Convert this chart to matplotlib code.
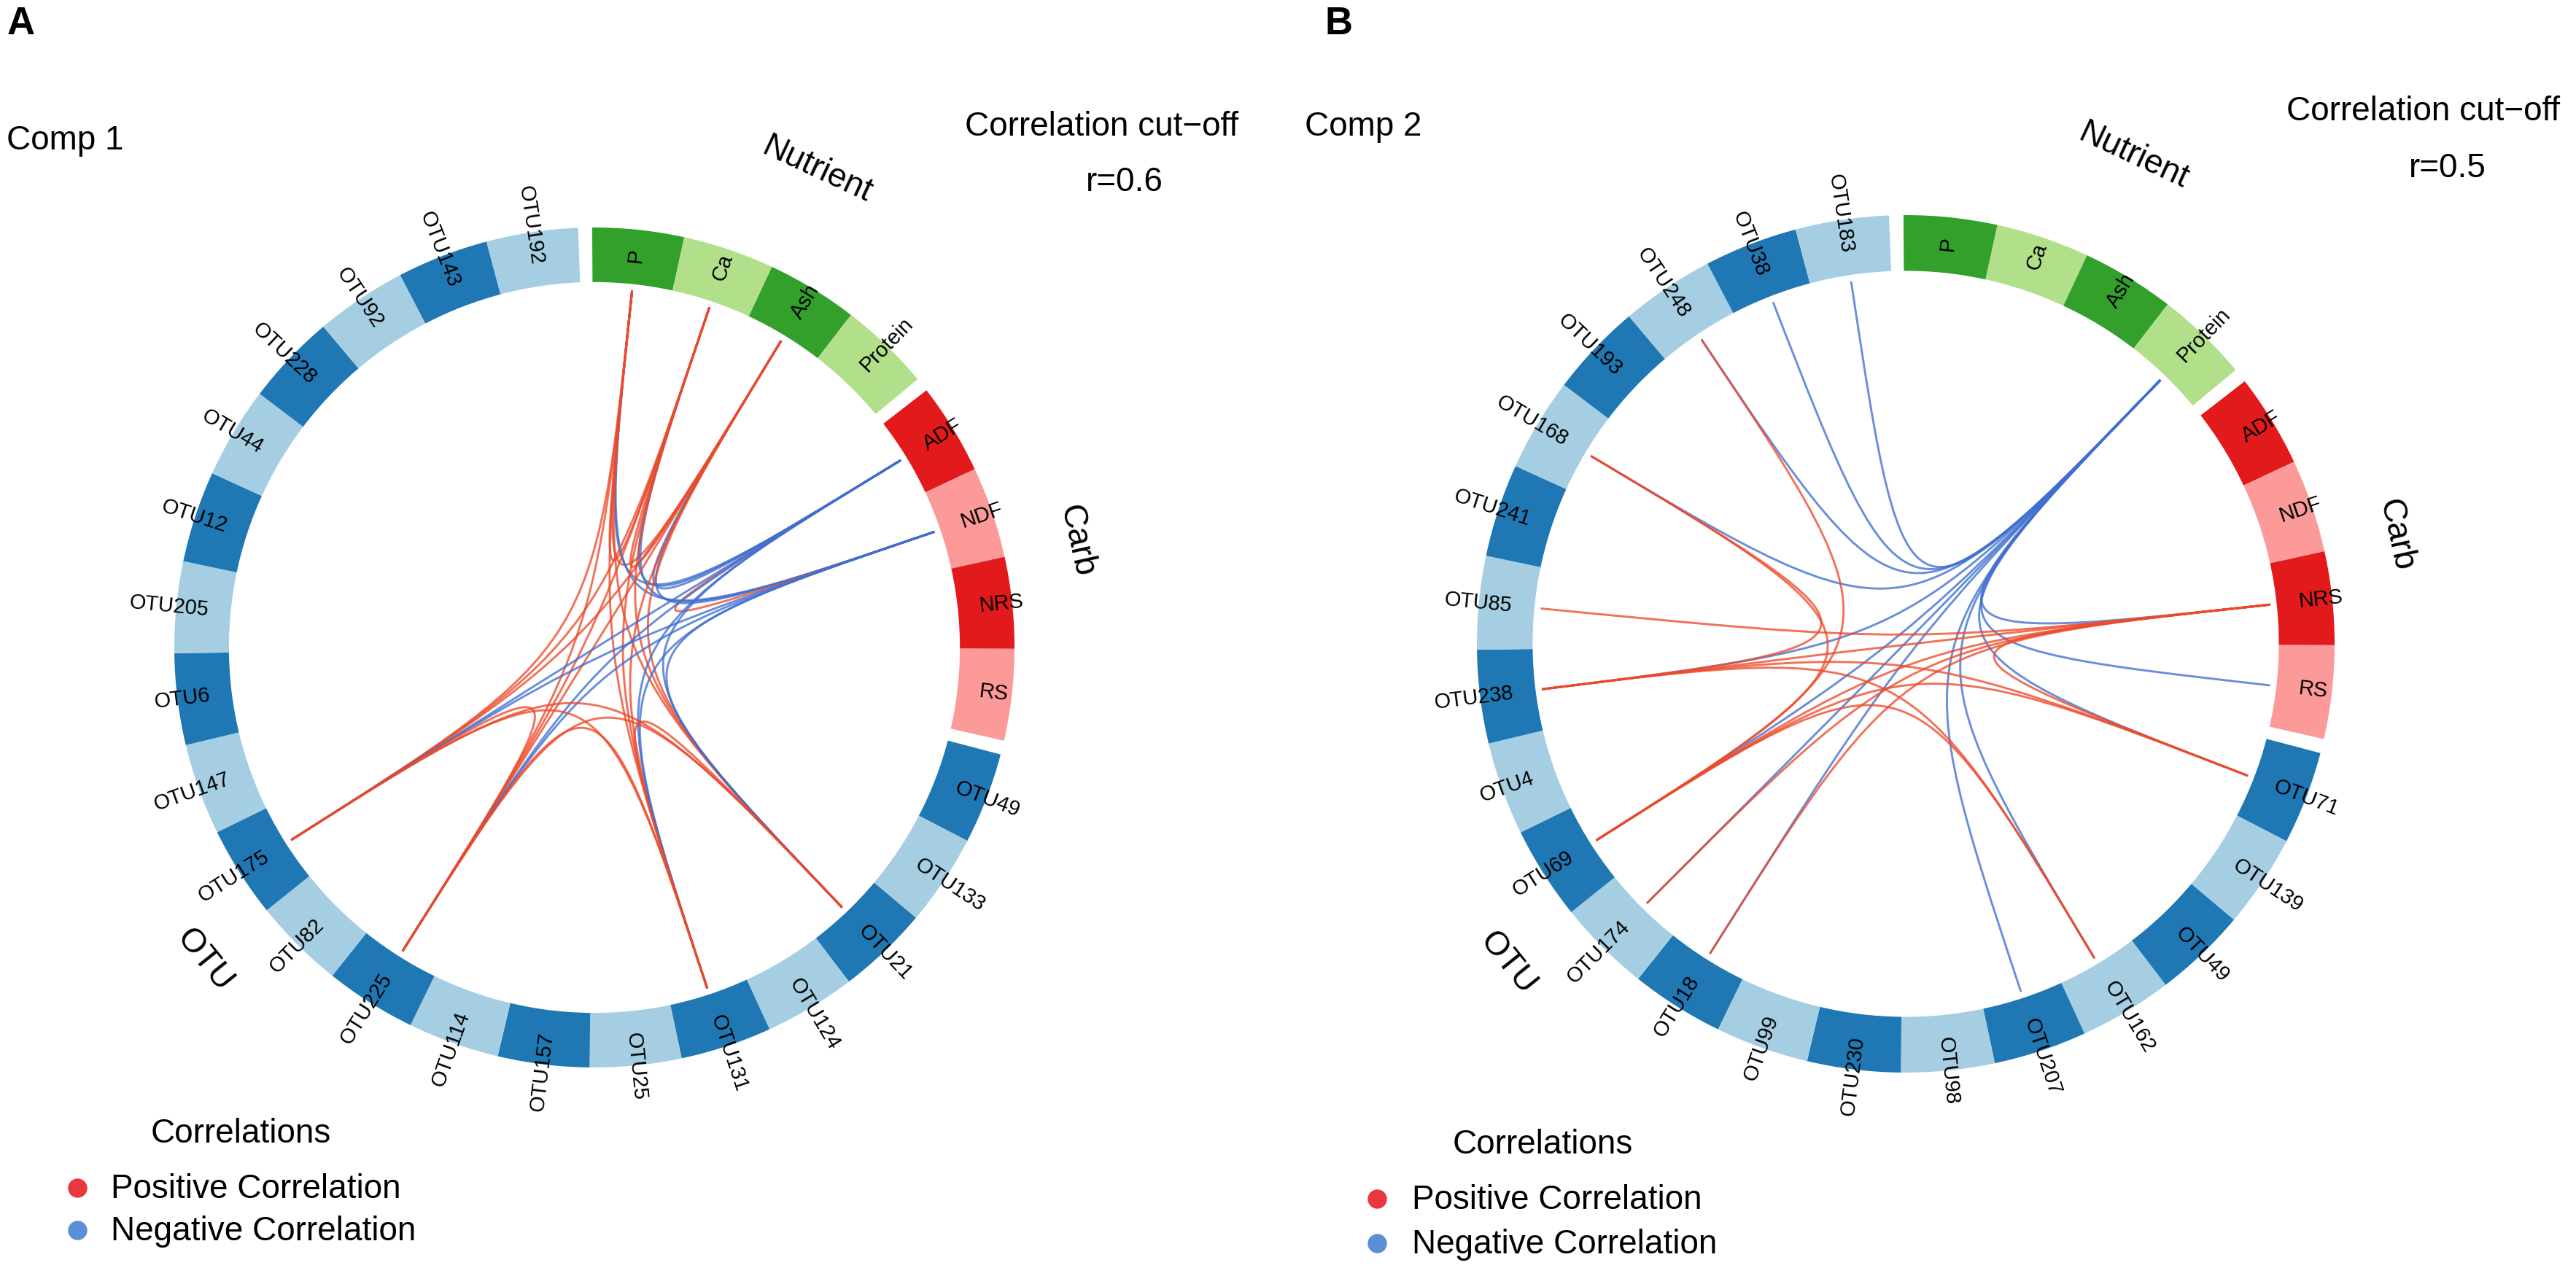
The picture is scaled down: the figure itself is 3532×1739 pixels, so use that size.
import numpy as np
import matplotlib.pyplot as plt
from matplotlib.patches import Wedge, PathPatch
from matplotlib.path import Path
from matplotlib.lines import Line2D

plt.rcParams['font.family'] = ['Liberation Sans', 'DejaVu Sans']

W, H, DPI = 3532, 1739, 200

nutrient = ['P', 'Ca', 'Ash', 'Protein']
carb = ['ADF', 'NDF', 'NRS', 'RS']
otu_a = ['OTU49', 'OTU133', 'OTU21', 'OTU124', 'OTU131', 'OTU25', 'OTU157',
         'OTU114', 'OTU225', 'OTU82', 'OTU175', 'OTU147', 'OTU6', 'OTU205',
         'OTU12', 'OTU44', 'OTU228', 'OTU92', 'OTU143', 'OTU192']
otu_b = ['OTU71', 'OTU139', 'OTU49', 'OTU162', 'OTU207', 'OTU98', 'OTU230',
         'OTU99', 'OTU18', 'OTU174', 'OTU69', 'OTU4', 'OTU238', 'OTU85',
         'OTU241', 'OTU168', 'OTU193', 'OTU248', 'OTU38', 'OTU183']

# comp 1: every pair of these variables passes the cut-off
vars_a = ['P', 'Ca', 'Ash', 'ADF', 'NDF', 'OTU21', 'OTU131', 'OTU225', 'OTU175']
side_a = [1, 1, 1, -1, -1, 1, 1, 1, 1]

# comp 2 links
link_b_from = ['Protein', 'Protein', 'Protein', 'Protein', 'Protein', 'Protein',
               'Protein', 'Protein', 'Protein', 'Protein', 'Protein', 'Protein',
               'Protein',
               'NRS', 'NRS', 'NRS', 'NRS', 'NRS', 'NRS',
               'OTU71', 'OTU71', 'OTU162', 'OTU162', 'OTU69', 'OTU69', 'OTU238']
link_b_to = ['NRS', 'RS', 'OTU71', 'OTU162', 'OTU207', 'OTU18', 'OTU174', 'OTU69',
             'OTU238', 'OTU168', 'OTU248', 'OTU38', 'OTU183',
             'OTU71', 'OTU18', 'OTU174', 'OTU69', 'OTU238', 'OTU85',
             'OTU69', 'OTU238', 'OTU69', 'OTU238', 'OTU168', 'OTU248', 'OTU168']
link_b_sign = [-1] * 13 + [1] * 13

cutoff_a, cutoff_b = 0.6, 0.5

seg_deg = 12.65
gap_deg = 1.93
start_deg = -0.3
r_out, r_in, r_link, r_lab = 1.0, 0.87, 0.855, 0.922

dark = {'Nutrient': '#33A02C', 'Carb': '#E31A1C', 'OTU': '#1F78B4'}
light = {'Nutrient': '#B2DF8A', 'Carb': '#FB9A99', 'OTU': '#A6CEE3'}
pos_col, neg_col = '#EC4A2A', '#3F6FD0'


def layout(otus):
    blocks = [('Nutrient', nutrient), ('Carb', carb), ('OTU', otus)]
    pos = {}
    segs = []
    th = start_deg
    for bname, names in blocks:
        b0 = th
        for i, n in enumerate(names):
            segs.append((n, bname, i, th, th + seg_deg))
            pos[n] = th + seg_deg / 2
            th += seg_deg
        segs.append(('__block__', bname, (b0 + th) / 2, b0, th))
        th += gap_deg
    return segs, pos


def xy(theta, r):
    t = np.radians(theta)
    return r * np.sin(t), r * np.cos(t)


def draw_panel(ax, otus, links, block_r):
    segs, pos = layout(otus)
    for n, bname, i, t1, t2 in segs:
        if n == '__block__':
            tm = i
            x, y = xy(tm, block_r[bname])
            rot = -tm
            while rot <= -90:
                rot += 180
            while rot > 90:
                rot -= 180
            ax.text(x, y, bname, rotation=rot, ha='center', va='center',
                    rotation_mode='anchor', fontsize=16.5)
            continue
        col = dark[bname] if i % 2 == 0 else light[bname]
        ax.add_patch(Wedge((0, 0), r_out, 90 - t2, 90 - t1, width=r_out - r_in,
                           facecolor=col, edgecolor='none'))
        tm = (t1 + t2) / 2
        x, y = xy(tm, r_lab)
        tmn = tm % 360
        if tmn < 180:
            rot, ha = 90 - tmn, 'left'
        else:
            rot, ha = 270 - tmn, 'right'
        ax.text(x, y, n, rotation=rot, ha=ha, va='center', rotation_mode='anchor',
                fontsize=10.4)
    for a, b, s in links:
        p0 = xy(pos[a], r_link)
        p1 = xy(pos[b], r_link)
        path = Path([p0, (0, 0), (0, 0), p1],
                    [Path.MOVETO, Path.CURVE4, Path.CURVE4, Path.CURVE4])
        ax.add_patch(PathPatch(path, facecolor='none',
                               edgecolor=pos_col if s > 0 else neg_col,
                               lw=1.05, alpha=0.78))


def panel_axes(left_px, right_px, cx, cy, R):
    ax = fig.add_axes([left_px / W, 0, (right_px - left_px) / W, 1])
    ax.set_xlim((left_px - cx) / R, (right_px - cx) / R)
    ax.set_ylim((cy - H) / R, cy / R)
    ax.axis('off')
    return ax


def ftext(px, py, s, **kw):
    fig.text(px / W, 1 - py / H, s, **kw)


def legend(px, py_title, py1, py2, pdot, ptext):
    ftext(px, py_title, 'Correlations', fontsize=16.5, va='baseline')
    for py, col, lab in [(py1, '#E8383D', 'Positive Correlation'),
                         (py2, '#5A8ED5', 'Negative Correlation')]:
        fig.add_artist(Line2D([pdot / W], [1 - (py - 14) / H], marker='o',
                              markersize=8.5, color=col, linestyle='none',
                              transform=fig.transFigure))
        ftext(ptext, py, lab, fontsize=16.5, va='baseline')


fig = plt.figure(figsize=(W / DPI, H / DPI), dpi=DPI)

links_a = []
for i in range(len(vars_a)):
    for j in range(i + 1, len(vars_a)):
        links_a.append((vars_a[i], vars_a[j], side_a[i] * side_a[j]))
links_b = list(zip(link_b_from, link_b_to, link_b_sign))

ax_a = panel_axes(0, 1766, 815, 888, 576)
draw_panel(ax_a, otu_a, links_a, {'Nutrient': 1.255, 'Carb': 1.175, 'OTU': 1.19})
ax_b = panel_axes(1766, 3532, 2613, 883, 588)
draw_panel(ax_b, otu_b, links_b, {'Nutrient': 1.255, 'Carb': 1.17, 'OTU': 1.19})

ftext(10, 8, 'A', fontsize=19, fontweight='bold', va='top')
ftext(1817, 8, 'B', fontsize=19, fontweight='bold', va='top')
ftext(9, 205, 'Comp 1', fontsize=16.5, va='baseline')
ftext(1789, 186, 'Comp 2', fontsize=16.5, va='baseline')
ftext(1511, 186, 'Correlation cut\u2212off', fontsize=16.5, va='baseline', ha='center')
ftext(1542, 262, 'r=%s' % cutoff_a, fontsize=16.5, va='baseline', ha='center')
ftext(3323, 165, 'Correlation cut\u2212off', fontsize=16.5, va='baseline', ha='center')
ftext(3356, 243, 'r=%s' % cutoff_b, fontsize=16.5, va='baseline', ha='center')

legend(207, 1567, 1643, 1701, 106, 152)
legend(1992, 1582, 1658, 1719, 1888, 1936)

fig.savefig('out.png', dpi=DPI)
